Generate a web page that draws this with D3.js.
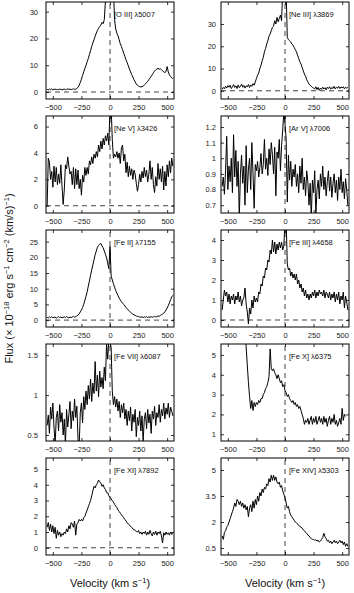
<!DOCTYPE html>
<html>
<head>
<meta charset="utf-8">
<script src="https://cdn.jsdelivr.net/npm/d3@7"></script>
<style>
    body { margin: 0; background: #fff; }
    text { font-family: "Liberation Sans", Arial, sans-serif; }
</style>
</head>
<body>
<svg id="chart" width="354" height="593"></svg>
<script>
// sample velocities (km/s), one flux value per sample in every series below
const velocity = d3.range(-550, 551, 10);

const lineNames = ['[O III] λ5007', '[Ne III] λ3869', '[Ne V] λ3426', '[Ar V] λ7006', '[Fe II] λ7155',
    '[Fe III] λ4658', '[Fe VII] λ6087', '[Fe X] λ6375', '[Fe XI] λ7892', '[Fe XIV] λ5303'];

const fluxOIII = [
    1.0, 0.8, 1.1, 0.9, 1.2, 0.8, 1.0, 1.1, 0.9, 1.0,
    0.9, 1.1, 1.0, 0.8, 1.0, 1.1, 0.9, 1.0, 1.2, 1.0,
    1.1, 0.9, 1.0, 1.2, 1.0, 1.1, 1.3, 1.8, 2.5, 3.5,
    4.8, 6.2, 7.5, 8.8, 10.0, 11.3, 12.5, 14.0, 15.5, 17.0,
    18.3, 19.5, 20.8, 22.0, 23.0, 23.8, 24.5, 25.0, 26.0, 25.5,
    27.0, 34.0, 40.0, 40.0, 40.0, 40.0, 40.0, 40.0, 38.0, 27.0,
    23.5, 22.0, 21.0, 19.5, 18.0, 17.0, 15.8, 14.5, 13.3, 12.0,
    11.0, 9.8, 8.6, 7.5, 6.5, 5.6, 4.6, 3.8, 3.0, 2.5,
    2.2, 2.0, 1.9, 2.0, 2.2, 2.6, 3.0, 3.5, 4.0, 4.6,
    5.2, 5.8, 6.5, 7.2, 7.8, 8.3, 8.6, 8.8, 8.5, 8.7,
    8.3, 8.0, 7.5, 7.3, 7.6, 9.5, 7.5, 6.4, 5.8, 5.3, 5.0
];
const fluxNeIII = [
    0.8, 1.5, 0.9, 2.0, 1.2, 2.3, 1.6, 2.5, 1.0, 1.8,
    2.8, 1.5, 2.2, 1.0, 2.6, 1.4, 2.0, 3.0, 1.6, 2.4,
    1.2, 2.2, 1.8, 2.8, 1.5, 2.6, 2.0, 3.2, 2.5, 4.0,
    5.5, 7.0, 8.0, 10.0, 11.5, 13.5, 15.0, 17.5, 19.0, 21.0,
    22.5, 24.5, 25.5, 27.0, 28.5, 29.0, 31.5, 30.0, 33.0, 31.0,
    32.5, 34.0, 31.5, 45.0, 48.0, 48.0, 45.0, 24.0, 23.0, 22.5,
    22.0, 21.0, 20.5, 19.5, 18.5, 17.5, 16.0, 14.5, 13.0, 12.0,
    10.5, 9.0, 7.5, 6.5, 5.0, 4.0, 3.0, 2.5, 2.0, 1.5,
    1.2, 0.8, 1.8, 0.5, 1.5, 0.2, 1.2, 0.6, 1.6, 0.8,
    1.4, 0.4, 1.6, 1.0, 1.8, 0.7, 1.5, 1.0, 2.0, 0.8,
    1.6, 1.2, 2.0, 1.0, 1.7, 1.3, 1.8, 0.9, 1.6, 1.2, 1.5
];
const fluxNeV = [
    0.0, 3.6, 3.3, 2.0, 2.6, 1.4, 3.0, 1.8, 2.9, 1.6,
    2.4, 1.7, 3.1, 1.5, 0.1, 1.2, 3.1, 2.8, 3.7, 3.0,
    2.4, 2.6, 1.6, 2.9, 1.3, 2.8, 1.6, 2.7, 1.3, 2.0,
    0.8, 2.3, 1.8, 2.9, 2.3, 2.9, 2.4, 3.4, 3.1, 3.7,
    3.2, 3.9, 3.6, 4.1, 3.7, 4.6, 4.1, 4.9, 4.3, 5.1,
    4.6, 5.3, 4.9, 5.5, 4.6, 7.5, 7.5, 5.0, 3.6, 3.9,
    3.7, 4.1, 3.6, 4.0, 3.2, 4.4, 4.6, 3.4, 3.9, 2.5,
    3.3, 2.2, 3.0, 2.3, 2.8, 2.0, 2.7, 2.4, 1.7, 1.1,
    1.6, 2.4, 1.8, 2.6, 2.1, 2.9, 2.2, 2.7, 1.8, 2.4,
    3.4, 2.0, 2.9, 1.6, 1.0, 2.2, 1.5, 3.2, 2.0, 2.8,
    1.8, 3.0, 1.2, 2.6, 1.5, 3.1, 2.2, 3.4, 2.5, 3.6, 3.0
];
const fluxArV = [
    0.82, 0.88, 0.77, 0.92, 1.14, 0.80, 0.95, 0.85, 1.00, 0.78,
    1.15, 0.88, 1.05, 0.82, 0.98, 0.62, 0.90, 1.02, 0.84, 0.95,
    0.70, 1.08, 0.78, 0.93, 1.00, 0.80, 1.10, 0.90, 0.68, 0.96,
    0.92, 0.98, 0.88, 0.94, 1.03, 0.90, 0.96, 1.12, 0.93, 1.00,
    0.89, 1.06, 0.96, 1.10, 1.02, 0.90, 1.07, 0.76, 1.04, 1.00,
    1.12, 0.92, 1.08, 1.18, 1.30, 1.22, 1.12, 0.72, 1.02, 0.86,
    0.98, 0.82, 0.93, 0.88, 0.96, 0.82, 0.90, 0.78, 0.95, 0.84,
    1.00, 0.80, 0.88, 0.76, 0.92, 0.85, 0.70, 0.84, 0.62, 0.86,
    0.78, 0.92, 0.64, 0.80, 0.86, 0.74, 0.90, 0.82, 0.95, 0.80,
    0.88, 0.76, 0.85, 0.92, 0.79, 0.88, 0.75, 0.84, 0.90, 0.78,
    0.86, 0.73, 0.88, 0.80, 0.93, 0.78, 0.85, 0.74, 0.87, 0.80, 0.70
];
const fluxFeII = [
    0.9, 0.7, 1.0, 0.8, 1.1, 0.7, 0.9, 1.0, 0.6, 0.9,
    1.1, 0.8, 1.0, 0.7, 0.9, 1.0, 0.8, 1.1, 0.9, 0.7,
    1.0, 0.8, 1.0, 1.2, 0.9, 1.1, 1.3, 1.6, 2.0, 2.6,
    3.2, 4.0, 5.0, 6.3, 7.6, 9.0, 10.8, 12.5, 14.3, 16.0,
    17.6, 19.2, 20.8, 22.0, 23.2, 23.8, 24.2, 24.4, 23.6, 23.0,
    22.0, 21.0, 19.8, 18.2, 16.4, 23.5, 14.0, 12.8, 11.6, 10.5,
    9.4, 8.6, 7.8, 7.0, 6.4, 5.9, 5.4, 5.0, 4.5, 4.0,
    3.6, 3.2, 2.8, 2.5, 2.2, 1.9, 1.7, 1.5, 1.3, 1.2,
    1.1, 1.0, 0.9, 1.1, 0.8, 1.0, 0.9, 1.1, 0.8, 1.0,
    0.9, 1.1, 0.9, 1.0, 1.2, 1.0, 1.1, 1.3, 1.2, 1.5,
    1.7, 1.9, 2.2, 2.6, 3.2, 3.8, 4.6, 5.5, 6.5, 7.4, 7.9
];
const fluxFeIII = [
    0.5, 1.0, 1.5, 1.2, 1.4, 0.9, 1.3, 0.8, 1.2, 1.0,
    1.3, 0.8, 1.2, 1.0, 1.4, 0.9, 1.2, 0.7, 1.0, 1.1,
    1.6, 0.8, 0.4, -0.2, 0.6, 0.3, 1.0, 0.6, 1.2, 0.9,
    1.1, 0.9, 1.4, 1.3, 1.8, 1.7, 2.2, 2.1, 2.6, 2.5,
    3.0, 2.9, 3.5, 3.3, 4.0, 3.4, 3.9, 3.3, 3.8, 3.5,
    3.9, 3.6, 3.9, 3.5, 3.7, 5.0, 5.0, 2.8, 2.5, 2.6,
    2.2, 2.4, 2.1, 2.3, 2.0, 2.3, 1.8, 2.0, 1.6, 1.8,
    1.4, 1.6, 1.2, 1.5, 1.1, 1.3, 1.0, 1.3, 1.1, 1.4,
    1.2, 1.5, 1.1, 1.4, 1.2, 1.5, 1.3, 1.4, 1.2, 1.5,
    1.1, 1.4, 1.3, 1.1, 1.4, 1.0, 1.3, 1.1, 1.4, 0.9,
    1.3, 1.0, 1.4, 0.8, 1.2, 1.0, 1.4, 0.6, 1.2, 0.9, 0.5
];
const fluxFeVII = [
    0.62, 0.75, 0.52, 0.85, 0.70, 0.90, 0.60, 0.38, 0.72, 0.80,
    0.55, 0.88, 0.66, 0.78, 0.50, 0.70, 0.38, 0.82, 0.60, 0.75,
    0.92, 0.58, 0.80, 0.68, 0.95, 0.72, 0.86, 0.45, 0.35, 0.78,
    0.90, 0.65, 0.98, 0.82, 1.05, 0.88, 1.12, 0.95, 1.20, 0.92,
    1.15, 1.02, 1.42, 1.05, 1.25, 0.98, 1.30, 1.10, 1.22, 1.08,
    1.35, 1.18, 1.65, 1.45, 1.70, 1.65, 1.60, 1.05, 0.88, 0.98,
    0.85, 0.95, 0.80, 0.92, 0.72, 0.88, 0.78, 0.90, 0.70, 0.82,
    0.62, 0.80, 0.68, 0.85, 0.55, 0.76, 0.66, 0.82, 0.48, 0.72,
    0.62, 0.80, 0.55, 0.74, 0.42, 0.70, 0.78, 0.58, 0.82, 0.65,
    0.76, 0.52, 0.80, 0.70, 0.86, 0.62, 0.78, 0.72, 0.88, 0.66,
    0.82, 0.74, 0.90, 0.70, 0.84, 0.76, 0.90, 0.72, 0.85, 0.80, 0.74
];
const fluxFeX = [
    null, null, null, null, null, null, null, null, null, null,
    null, null, null, null, null, null, null, null, null, null,
    6.2, 5.4, 4.5, 3.6, 2.9, 2.3, 2.7, 2.2, 2.6, 2.4,
    2.6, 2.5, 2.7, 2.6, 2.8, 2.8, 3.0, 3.1, 3.3, 3.4,
    3.6, 3.9, 5.3, 4.3, 4.2, 4.3, 4.1, 4.0, 3.8, 4.0,
    3.8, 3.6, 3.7, 3.4, 3.5, 3.2, 3.1, 2.9, 3.0, 2.8,
    2.7, 2.6, 2.7, 2.5, 2.6, 2.4, 2.5, 2.3, 2.4, 2.2,
    2.0, 1.8, 1.5, 1.7, 1.6, 1.8, 1.5, 1.7, 1.9, 1.5,
    1.8, 1.6, 1.9, 1.5, 1.7, 1.9, 1.6, 1.8, 1.5, 1.9,
    1.6, 1.8, 1.4, 1.7, 1.9, 1.5, 1.8, 1.6, 2.0, 1.5,
    1.7, 1.4, 1.6, 1.8, 1.5, 2.3, 1.7, 2.0, 1.9, null, null
];
const fluxFeXI = [
    1.3, 1.6, 1.1, 1.5, 1.0, 1.4, 0.9, 1.3, 0.6, 1.1,
    0.8, 1.0, 0.7, 0.9, 0.8, 1.0, 0.9, 1.2, 1.0, 1.4,
    1.2, 1.6, 1.5, 1.3, 1.7, 0.8, 1.5, 1.6, 1.8, 1.7,
    1.8, 1.7, 1.9, 2.0, 2.2, 2.4, 2.6, 2.8, 3.0, 3.3,
    3.6, 3.9, 3.8, 4.0, 4.1, 4.3, 4.2, 4.1, 3.9, 4.0,
    3.8, 3.7, 3.5, 3.5, 3.3, 3.2, 3.1, 3.0, 2.9, 2.75,
    2.65, 2.55, 2.4, 2.3, 2.2, 2.1, 2.0, 1.9, 1.8, 1.7,
    1.6, 1.5, 1.45, 1.35, 1.3, 1.2, 1.15, 1.1, 1.05, 1.0,
    1.1, 0.9, 1.0, 0.85, 1.0, 0.9, 1.05, 0.8, 1.0, 0.85,
    1.1, 0.9, 0.75, 1.0, 0.85, 1.05, 0.8, 1.0, 0.9, 1.05,
    0.75, 0.3, 0.95, 0.8, 1.0, 0.85, 0.95, 0.8, 1.0, 0.85, 0.9
];
const fluxFeXIV = [
    1.2, 1.0, 1.4, 1.5, 1.7, 1.8, 2.0, 2.2, 2.4, 2.6,
    2.8, 3.1, 2.9, 3.3, 3.2, 3.0, 3.2, 2.9, 3.1, 2.8,
    3.0, 2.7, 2.9, 2.3, 2.8, 3.0, 2.6, 3.2, 2.8, 3.3,
    3.0, 3.5, 3.2, 3.7, 3.5, 3.9, 3.7, 4.0, 3.9, 4.2,
    4.1, 4.5, 4.3, 4.7, 4.4, 4.7, 4.4, 4.6, 4.3, 4.2,
    4.3, 4.0, 4.1, 3.8, 3.6, 3.4, 3.1, 2.8, 2.9, 2.6,
    2.4, 2.3, 2.2, 2.1, 2.0, 1.95, 1.9, 1.8, 1.75, 1.7,
    1.65, 1.55, 1.5, 1.4, 1.35, 1.25, 1.2, 1.1, 1.05, 1.0,
    1.0, 0.95, 0.98, 0.9, 0.95, 0.85, 0.9, 1.0, 1.1, 1.35,
    1.15, 1.05, 0.9, 0.95, 0.8, 0.9, 0.75, 0.85, 0.95, 0.8,
    0.9, 0.75, 0.85, 0.95, 0.8, 0.9, 0.7, 0.85, 0.6, 0.75, 0.6
];

const fluxSeries = [fluxOIII, fluxNeIII, fluxNeV, fluxArV, fluxFeII, fluxFeIII, fluxFeVII, fluxFeX, fluxFeXI, fluxFeXIV];
const yDomains = [[-2.6, 33.6], [-3.7, 39.9], [-0.55, 6.8], [0.65, 1.27], [-2.2, 28.7],
    [-0.35, 4.5], [0.425, 1.64], [0.66, 5.55], [-0.46, 5.7], [0.1, 5.69]];
const yTickValues = [[0, 10, 20, 30], [0, 10, 20, 30], [0, 2, 4, 6], [0.7, 0.8, 0.9, 1, 1.1, 1.2],
    [0, 5, 10, 15, 20, 25], [0, 1, 2, 3, 4], [0.5, 1, 1.5], [1, 2, 3, 4, 5], [0, 1, 2, 3, 4, 5], [0.5, 2, 3.5, 5]];
const xTickValues = [-500, -250, 0, 250, 500];

let svg = d3.select('#chart');
let colLeft = [46, 221];
let panelW = 128, panelH = 97;
let rowTop = i => 2 + 114 * i;

let x = d3.scaleLinear().domain([-560, 560]).range([0, panelW]);

fluxSeries.forEach(function (flux, i) {
    let col = i % 2, row = Math.floor(i / 2);
    let g = svg.append('g').attr('transform', `translate(${colLeft[col]},${rowTop(row)})`);
    let y = d3.scaleLinear().domain(yDomains[i]).range([panelH, 0]);

    g.append('clipPath').attr('id', 'clip' + i)
        .append('rect').attr('width', panelW).attr('height', panelH);

    // dashed guides: zero velocity and zero flux
    let guides = g.append('g').attr('clip-path', `url(#clip${i})`)
        .attr('stroke', '#111').attr('stroke-width', 0.8).attr('stroke-dasharray', '5,4');
    guides.append('line').attr('x1', x(0)).attr('x2', x(0)).attr('y1', panelH).attr('y2', 0);
    if (yDomains[i][0] < 0) {
        guides.append('line').attr('x1', 0).attr('x2', panelW).attr('y1', y(0)).attr('y2', y(0));
    }

    let line = d3.line()
        .defined(d => d[1] != null)
        .x(d => x(d[0]))
        .y(d => y(d[1]));
    g.append('path')
        .datum(velocity.map((v, k) => [v, flux[k]]))
        .attr('clip-path', `url(#clip${i})`)
        .attr('fill', 'none')
        .attr('stroke', '#000')
        .attr('stroke-width', 1)
        .attr('stroke-linejoin', 'round')
        .attr('d', line);

    let styleAxis = function (a) {
        a.select('.domain').remove();
        a.attr('font-size', 7.5).attr('font-family', '"Liberation Sans", Arial, sans-serif');
        a.selectAll('line').attr('stroke-width', 0.8);
        a.selectAll('text').attr('fill', '#222');
    };

    g.append('g').attr('transform', `translate(0,${panelH})`)
        .call(d3.axisBottom(x).tickValues(xTickValues).tickSize(-3).tickPadding(6))
        .call(styleAxis);
    g.append('g')
        .call(d3.axisTop(x).tickValues(xTickValues).tickSize(-3).tickFormat(''))
        .call(styleAxis);
    g.append('g')
        .call(d3.axisLeft(y).tickValues(yTickValues[i]).tickSize(-3).tickPadding(col === 0 ? 8 : 5).tickFormat(d3.format('~g')))
        .call(styleAxis);
    g.append('g').attr('transform', `translate(${panelW},0)`)
        .call(d3.axisRight(y).tickValues(yTickValues[i]).tickSize(-3).tickFormat(''))
        .call(styleAxis);

    g.append('rect').attr('width', panelW).attr('height', panelH)
        .attr('fill', 'none').attr('stroke', '#000').attr('stroke-width', 1);

    g.append('text').attr('x', 68).attr('y', 14.5)
        .attr('font-size', 7.5).attr('fill', '#111')
        .text(lineNames[i]);
});

// axis titles with superscripts
let sup = function (t, s) {
    t.append('tspan').attr('dy', -4).attr('font-size', 7.5).text(s);
};
let plain = function (t, s) {
    t.append('tspan').attr('dy', 4).text(s);
};

colLeft.forEach(function (cx) {
    let t = svg.append('text').attr('x', cx + panelW / 2).attr('y', 587)
        .attr('text-anchor', 'middle').attr('font-size', 11).attr('fill', '#111');
    t.append('tspan').text('Velocity (km s');
    sup(t, '−1');
    plain(t, ')');
});

let yLabel = svg.append('text')
    .attr('transform', `translate(13,${(rowTop(0) + rowTop(4) + panelH) / 2}) rotate(-90)`)
    .attr('text-anchor', 'middle').attr('font-size', 11).attr('fill', '#111');
yLabel.append('tspan').text('Flux (× 10');
sup(yLabel, '−18');
plain(yLabel, ' erg s');
sup(yLabel, '−1');
plain(yLabel, ' cm');
sup(yLabel, '−2');
plain(yLabel, ' (km/s)');
sup(yLabel, '−1');
plain(yLabel, ')');
</script>
</body>
</html>
